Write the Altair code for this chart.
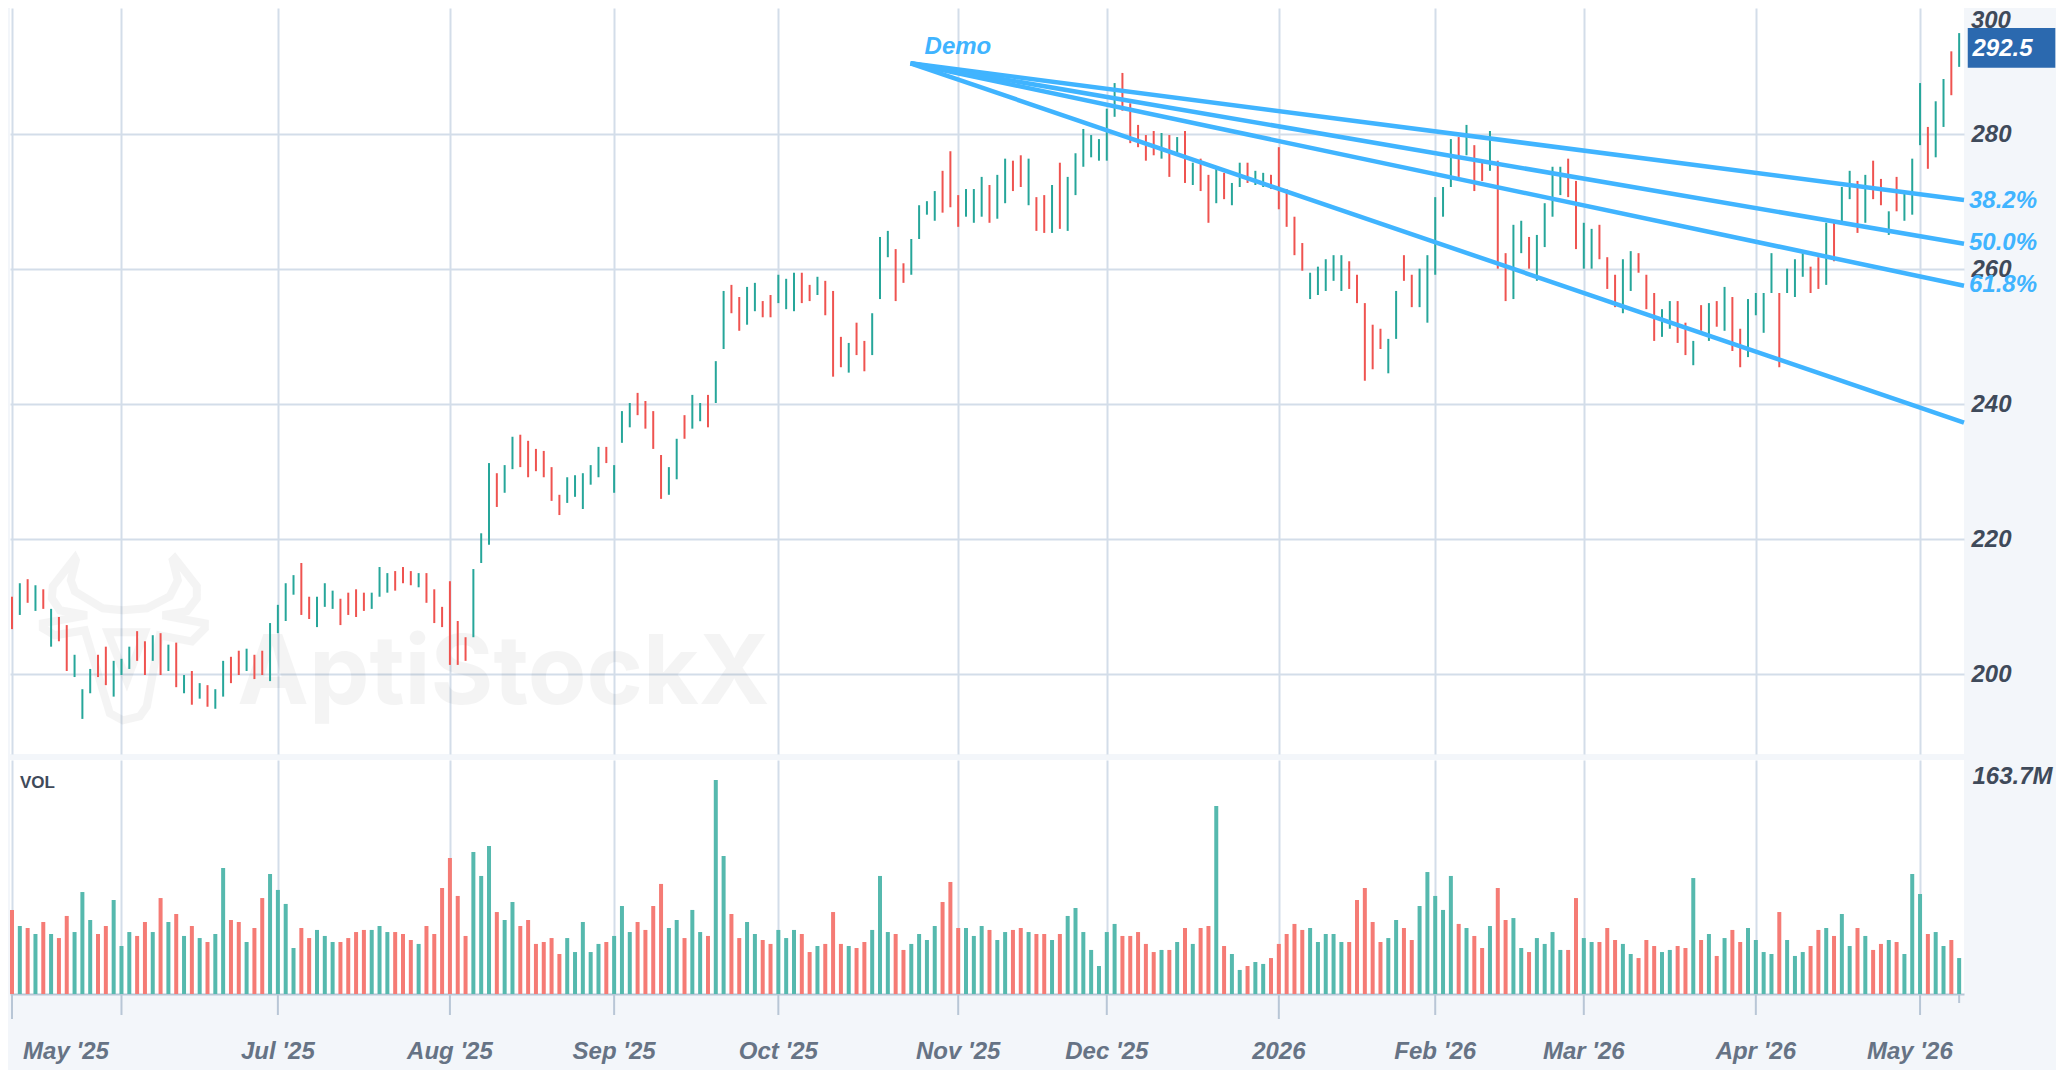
import pandas as pd
import altair as alt

highs = [
    211.4,213.4,214.0,213.1,212.5,209.6,208.4,207.2,202.8,197.7,
    200.7,202.8,204.0,201.9,202.2,204.0,206.3,204.8,205.7,206.0,
    204.3,204.6,199.8,200.4,198.6,198.3,197.7,201.9,202.5,203.4,
    203.7,202.8,203.4,207.5,210.2,213.4,214.6,216.4,211.4,211.4,
    213.4,212.3,211.1,212.0,212.5,212.0,212.0,215.8,214.9,215.2,
    215.8,215.2,214.9,214.9,212.5,209.9,213.7,207.8,205.4,215.5,
    220.8,231.2,229.7,230.9,235.1,235.4,234.5,233.3,233.0,230.6,
    226.5,229.1,229.4,229.7,230.9,233.6,233.6,230.9,238.9,240.1,
    241.6,240.4,238.9,232.4,230.6,234.8,238.3,241.3,240.1,241.3,
    246.3,256.7,257.6,255.8,257.3,257.9,255.2,256.1,259.1,258.5,
    259.4,259.4,257.6,258.8,258.2,256.7,249.9,249.0,252.0,249.3,
    253.4,264.7,265.6,262.9,260.8,264.4,269.4,270.0,271.5,274.5,
    277.4,270.9,271.8,271.8,273.6,272.4,273.9,276.3,276.0,276.8,
    276.3,270.6,270.9,272.4,275.7,273.6,277.1,280.7,279.8,279.2,
    283.7,287.5,289.0,284.5,281.3,279.8,280.4,280.1,279.8,279.5,
    280.4,275.7,276.3,273.9,274.8,274.2,272.7,275.7,275.7,274.5,
    274.2,273.9,278.0,271.8,267.7,263.8,259.4,260.3,261.4,262.0,
    262.0,261.1,259.1,254.9,251.7,251.1,249.6,256.7,262.0,259.1,
    260.0,262.0,270.6,272.1,279.2,279.5,281.3,278.3,275.7,280.4,
    276.0,262.3,266.5,267.1,264.7,265.0,269.7,275.1,275.1,276.3,
    273.0,266.8,265.9,266.5,261.7,259.1,261.4,262.6,262.3,259.1,
    256.4,254.0,255.2,255.2,252.0,249.3,254.6,254.9,255.2,257.3,
    255.8,251.1,255.5,256.4,256.4,262.3,256.4,260.0,261.4,262.3,
    260.3,261.7,266.8,266.8,272.1,274.5,273.0,273.9,276.0,273.3,
    268.5,273.6,271.2,276.3,287.5,281.0,284.8,288.1,292.2,294.9,
]
lows = [
    206.6,208.7,210.5,209.3,209.6,204.0,204.8,200.4,199.5,193.3,
    197.1,199.5,198.3,196.6,199.8,200.7,201.9,199.8,201.9,199.8,
    200.4,198.0,197.1,195.4,196.3,195.1,194.8,196.6,198.6,199.8,
    200.4,199.2,199.8,198.9,206.0,207.8,211.7,208.7,208.1,206.9,
    209.9,209.6,207.2,208.7,208.4,209.3,209.6,211.4,212.0,212.3,
    213.4,213.1,212.8,210.5,207.5,206.9,201.3,201.3,201.9,205.4,
    216.4,219.1,224.7,226.8,230.3,230.6,229.1,230.0,229.1,225.6,
    223.5,225.3,226.2,224.4,228.0,229.1,231.2,226.8,234.2,236.5,
    238.3,236.3,233.3,225.9,226.5,228.8,234.8,236.3,237.4,236.5,
    240.1,248.1,253.4,250.8,251.7,253.7,252.8,252.8,254.9,254.0,
    253.7,254.9,255.2,256.1,253.1,244.0,245.4,244.6,247.2,244.8,
    247.2,255.5,261.7,255.2,257.9,259.1,264.4,268.0,267.1,268.3,
    269.1,266.2,267.7,266.8,267.7,266.8,267.4,269.7,271.5,272.1,
    269.4,265.6,265.3,265.3,265.9,265.6,270.9,275.1,276.5,276.0,
    276.0,282.5,283.4,278.6,278.0,276.0,276.8,276.3,273.6,277.1,
    272.7,272.4,271.5,266.8,269.7,270.3,269.4,272.1,272.7,272.4,
    272.1,271.8,268.8,266.2,262.0,259.7,255.5,256.1,256.7,258.2,
    256.7,257.0,254.9,243.4,245.1,248.1,244.5,249.6,258.2,254.3,
    254.3,252.0,259.1,267.7,272.1,273.6,276.8,271.5,273.0,274.5,
    260.0,255.2,255.5,262.3,260.0,258.2,263.2,267.7,270.9,270.6,
    262.9,260.0,260.0,261.4,257.0,254.3,253.4,256.7,259.4,254.0,
    249.3,249.9,251.1,249.0,247.2,245.7,250.8,249.3,251.4,250.8,
    247.8,245.4,246.9,253.1,250.5,256.4,245.4,256.4,255.8,258.8,
    256.4,257.0,257.6,261.1,266.5,270.3,265.3,266.8,270.3,269.4,
    265.0,268.5,267.1,268.0,278.3,274.8,276.5,281.0,285.7,289.9,
]
volumes = [
    64.3,52.0,50.5,45.9,55.1,45.9,42.8,59.7,47.4,78.0,
    56.6,45.9,52.0,71.9,36.7,47.4,44.4,55.1,47.4,73.4,
    55.1,61.2,44.4,52.0,42.8,39.8,45.9,96.4,56.6,55.1,
    39.8,50.5,73.4,91.8,79.6,68.9,35.2,50.5,42.8,49.0,
    44.4,39.8,39.8,42.8,47.4,49.0,49.0,52.0,47.4,47.4,
    45.9,41.3,38.3,52.0,45.9,81.1,104.0,75.0,44.4,108.6,
    90.3,113.2,62.7,56.6,70.4,52.0,56.6,38.3,39.8,42.8,
    30.6,42.8,32.1,55.1,32.1,38.3,39.8,44.4,67.3,47.4,
    55.1,49.0,67.3,84.2,50.5,56.6,42.8,64.3,47.4,44.4,
    163.7,105.6,61.2,42.8,55.1,45.9,41.3,38.3,49.0,42.8,
    49.0,45.9,32.1,36.7,38.3,62.7,38.3,36.7,35.2,39.8,
    49.0,90.3,47.4,45.9,33.7,38.3,45.9,41.3,52.0,70.4,
    85.7,50.5,50.5,44.4,52.0,49.0,41.3,47.4,49.0,50.5,
    47.4,45.9,45.9,41.3,45.9,59.7,65.8,47.4,33.7,21.4,
    47.4,53.6,44.4,44.4,47.4,38.3,32.1,33.7,33.7,39.8,
    50.5,38.3,50.5,52.0,143.8,36.7,30.6,18.4,21.4,24.5,
    23.0,27.5,38.3,45.9,53.6,49.0,50.5,39.8,45.9,45.9,
    39.8,39.8,71.9,81.1,55.1,39.8,42.8,56.6,50.5,41.3,
    67.3,93.3,75.0,64.3,90.3,53.6,50.5,44.4,35.2,52.0,
    81.1,56.6,58.1,35.2,32.1,42.8,38.3,47.4,33.7,33.7,
    73.4,42.8,39.8,39.8,50.5,41.3,38.3,30.6,27.5,41.3,
    36.7,32.1,33.7,36.7,35.2,88.7,41.3,45.9,29.1,42.8,
    49.0,39.8,50.5,41.3,32.1,30.6,62.7,41.3,29.1,32.1,
    36.7,49.0,50.5,44.4,61.2,36.7,50.5,44.4,33.7,38.3,
    41.3,39.8,30.6,91.8,76.5,45.9,47.4,36.7,41.3,27.5,
]
# u = up day (teal), d = down day (red)
directions = list("".join([
    "dudududduu", "udduuuddud", "udududuudd", "udduuuuddu", "uudddduuud",
    "dduddddddu", "uuduuddddd", "duuuuuduuu", "dddduuduud", "uudduudduu",
    "uddudddudd", "uuudduuuud", "dduuuduudd", "udduduuuuu", "uudddddudu",
    "dudduduudu", "uddddduuuu", "uddddduudd", "uuuuududdu", "dduuduuuud",
    "duuddduudd", "duuddududu", "dduuuuduuu", "dduduududd", "uduuuduudu",
]))

tick_idx = [0, 14, 34, 56, 77, 98, 121, 140, 162, 182, 201, 223, 244]
major_tick_idx = [0, 162]
end_tick_idx = [249]
month_labels = ["May '25", "Jul '25", "Aug '25", "Sep '25", "Oct '25", "Nov '25",
                "Dec '25", "2026", "Feb '26", "Mar '26", "Apr '26", "May '26"]
month_label_idx = [6.9, 34, 56, 77, 98, 121, 140, 162, 182, 201, 223, 242.7]
price_ticks = [200, 220, 240, 260, 280]

fan_x = [114.9, 249.62]
fan_start = 290.43
fan_ends = [270.18, 263.70, 257.48, 237.20]
fan_labels = ["38.2%", "50.0%", "61.8%"]
fan_label_prices = [270.05, 263.85, 257.55]
last_price = 292.5
max_volume = 163.7

TEAL, RED = "#26a69a", "#ef5350"
VOL_TEAL, VOL_RED = "#56b9ae", "#f57b75"
BLUE = "#40b4ff"
GRID = "#d3dde9"
AXIS = "#b8c6d6"
DARK = "#3f4a5a"
FONT = "Liberation Sans"

df = pd.DataFrame({"i": range(len(highs)), "high": highs, "low": lows,
                   "volume": volumes, "dir": directions})

x_scale = alt.Scale(domain=[-0.256, 249.62], nice=False, zero=False)
vol_x_scale = alt.Scale(domain=[-0.256, 249.62], nice=False, zero=False, padding=0)
price_scale = alt.Scale(domain=[188.1, 298.62], nice=False, zero=False)
vol_scale = alt.Scale(domain=[0, 179], nice=False, zero=False)

label_style = dict(labelFont=FONT, labelFontSize=24, labelFontWeight="bold",
                   labelFontStyle="italic", labelColor=DARK)

top_x_axis = alt.Axis(values=tick_idx, labels=False, ticks=False, domain=False,
                      grid=True, gridColor=GRID, gridWidth=2)
top_y_axis = alt.Axis(orient="right", values=price_ticks, ticks=False, domain=False,
                      grid=True, gridColor=GRID, gridWidth=2, labelPadding=7,
                      labelOffset=1, **label_style)
vol_x_axis = alt.Axis(values=tick_idx, labels=False, ticks=False, domain=True,
                      domainColor=AXIS, domainWidth=2,
                      grid=True, gridColor=GRID, gridWidth=2)


def top_x(field):
    return alt.X(field, scale=x_scale, title=None, axis=top_x_axis)


def top_y(field):
    return alt.Y(field, scale=price_scale, title=None, axis=top_y_axis)


def vol_x(field):
    return alt.X(field, scale=vol_x_scale, title=None, axis=vol_x_axis)


def text_layer(label, x, y, **style):
    frame = pd.DataFrame({"x": [x], "y": [y], "label": [label]})
    return alt.Chart(frame).mark_text(**style).encode(x=top_x("x:Q"), y=top_y("y:Q"), text="label:N")


# top panel
watermark = text_layer("AptiStockX", 28.8, 195.5, font="Inter", fontSize=96, fontWeight=700,
                       align="left", baseline="alphabetic", color="#000000", opacity=0.04)

bull_path = ("M-.49 -.8L-.71 -.52L-.72 -.4L-.64 -.28L-.37 -.23L-.81 -.15L-.81 -.1L-.69 -.03"
             "L-.39 -.08L-.14 .75L-.01 .82L.16 .78L.23 .68L.36 -.03L.68 .03L.81 -.1L.81 -.15"
             "L.39 -.23L.63 -.27L.73 -.4L.73 -.52L.51 -.8L.49 -.78L.54 -.58L.46 -.42L.23 -.3"
             "L-.01 -.28L-.21 -.3L-.49 -.47L-.53 -.58L-.48 -.78Z"
             "M-.16 -.06L.03 .42L.21 -.06Z")
logo = alt.Chart(pd.DataFrame({"x": [14.3], "y": [205.24]})).mark_point(
    shape=bull_path, size=40000, filled=False, stroke="#000000", strokeWidth=8, opacity=0.04,
).encode(x=top_x("x:Q"), y=top_y("y:Q"))

price_bars = alt.Chart(df).mark_rule(strokeWidth=2).encode(
    x=top_x("i:Q"),
    y=top_y("low:Q"),
    y2="high:Q",
    color=alt.Color("dir:N", scale=alt.Scale(domain=["u", "d"], range=[TEAL, RED]), legend=None),
)

fan_df = pd.DataFrame({"x0": fan_x[0], "x1": fan_x[1], "y0": fan_start, "y1": fan_ends})
fan = alt.Chart(fan_df).mark_rule(color=BLUE, strokeWidth=4.5).encode(
    x=top_x("x0:Q"), x2="x1:Q",
    y=top_y("y0:Q"), y2="y1:Q",
)

blue_style = dict(font=FONT, fontSize=24, fontWeight="bold", fontStyle="italic",
                  color=BLUE, align="left", baseline="middle")
fan_texts = [text_layer(t, 250.26, p, **blue_style) for t, p in zip(fan_labels, fan_label_prices)]
demo = text_layer("Demo", 116.7, 292.9, **blue_style)

top_label = text_layer("300", 250.5, 298.62, font=FONT, fontSize=24, fontWeight="bold",
                       fontStyle="italic", color=DARK, align="left", baseline="top", dy=1)

box_df = pd.DataFrame({"x": [250.1], "x1": [261.3], "y": [295.66], "y1": [289.78]})
last_box = alt.Chart(box_df).mark_rect(color="#2b69af").encode(
    x=top_x("x:Q"), x2="x1:Q", y=top_y("y:Q"), y2="y1:Q")
last_text = text_layer(f"{last_price}", 250.7, 292.55, font=FONT, fontSize=24, fontWeight="bold",
                       fontStyle="italic", color="#ffffff", align="left", baseline="middle")

price_panel = alt.layer(
    watermark, logo, price_bars, fan, *fan_texts, demo, top_label, last_box, last_text
).properties(width=1954, height=746)

# bottom panel
vol_bars = alt.Chart(df).mark_bar(size=4).encode(
    x=vol_x("i:Q"),
    y=alt.Y("volume:Q", scale=vol_scale, title=None,
            axis=alt.Axis(orient="right", values=[max_volume], ticks=False, domain=False,
                          grid=False, labelPadding=8, labelOffset=-4,
                          labelExpr="format(datum.value, '.1f') + 'M'", **label_style)),
    color=alt.Color("dir:N", scale=alt.Scale(domain=["u", "d"], range=[VOL_TEAL, VOL_RED]),
                    legend=None),
)

tick_df = pd.DataFrame({"x": [t for t in tick_idx if t not in major_tick_idx]})
major_df = pd.DataFrame({"x": major_tick_idx})
end_df = pd.DataFrame({"x": end_tick_idx})
ticks = alt.Chart(tick_df).mark_rule(color=AXIS, strokeWidth=2).encode(
    x=vol_x("x:Q"), y=alt.value(234), y2=alt.value(255))
major_ticks = alt.Chart(major_df).mark_rule(color=AXIS, strokeWidth=2).encode(
    x=vol_x("x:Q"), y=alt.value(234), y2=alt.value(259))
end_tick = alt.Chart(end_df).mark_rule(color=AXIS, strokeWidth=2).encode(
    x=vol_x("x:Q"), y=alt.value(234), y2=alt.value(243))

month_df = pd.DataFrame({"x": month_label_idx, "label": month_labels})
months = alt.Chart(month_df).mark_text(
    font=FONT, fontSize=24, fontWeight="bold", fontStyle="italic", color="#667385",
    align="center", baseline="middle",
).encode(x=vol_x("x:Q"), y=alt.value(292), text="label:N")

vol_title = alt.Chart(pd.DataFrame({"label": ["VOL"]})).mark_text(
    font=FONT, fontSize=17, fontWeight="bold", color=DARK, align="left", baseline="middle",
).encode(x=alt.value(10), y=alt.value(23), text="label:N")

vol_panel = alt.layer(vol_bars, ticks, major_ticks, end_tick, months, vol_title).properties(
    width=1954, height=234)

chart = alt.vconcat(price_panel, vol_panel, spacing=6).resolve_scale(
    color="independent", x="independent", y="independent"
).properties(
    background="#f3f6fa",
    padding={"left": 2, "top": 0, "right": 0, "bottom": 6},
).configure_view(fill="#ffffff", strokeWidth=0)

chart.save("out.html", embed_options={"renderer": "svg", "actions": False})
